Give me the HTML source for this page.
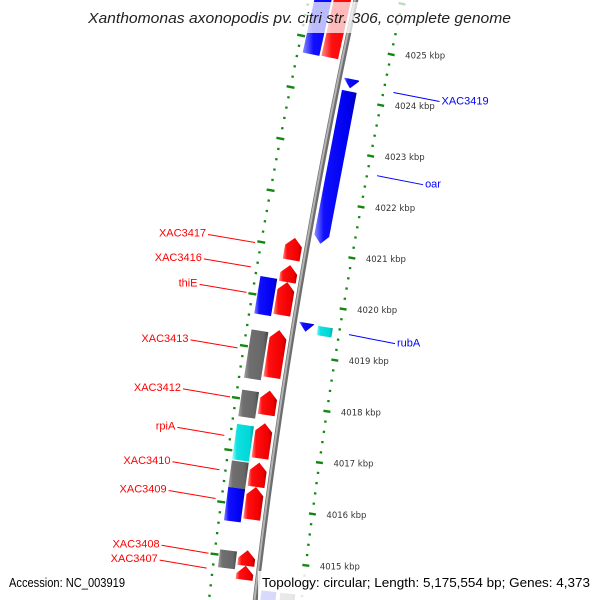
<!DOCTYPE html>
<html><head><meta charset="utf-8"><style>
html,body{margin:0;padding:0;background:#fff;overflow:hidden}
svg{display:block}
</style></head><body>
<svg id="map" width="600" height="600" viewBox="0 0 600 600" xmlns="http://www.w3.org/2000/svg">
<defs>
<linearGradient id="g-red" x1="0" y1="0" x2="1" y2="0"><stop offset="0" stop-color="#ff8a8a"/><stop offset="0.22" stop-color="#ff1010"/><stop offset="0.8" stop-color="#f00000"/><stop offset="1" stop-color="#b00000"/></linearGradient>
<linearGradient id="g-blue" x1="0" y1="0" x2="1" y2="0"><stop offset="0" stop-color="#8a8aff"/><stop offset="0.22" stop-color="#1010ff"/><stop offset="0.8" stop-color="#0000f0"/><stop offset="1" stop-color="#0000b0"/></linearGradient>
<linearGradient id="g-gray" x1="0" y1="0" x2="1" y2="0"><stop offset="0" stop-color="#a0a0a0"/><stop offset="0.22" stop-color="#707070"/><stop offset="0.8" stop-color="#666"/><stop offset="1" stop-color="#444"/></linearGradient>
<linearGradient id="g-cyan" x1="0" y1="0" x2="1" y2="0"><stop offset="0" stop-color="#a0ffff"/><stop offset="0.22" stop-color="#10e0e0"/><stop offset="0.8" stop-color="#00d8d8"/><stop offset="1" stop-color="#009c9c"/></linearGradient>
</defs>
<g id="ticks"></g>
<g id="backbone"></g>
<g id="features"></g>
<g id="labels"></g>
<rect x="84" y="2" width="432" height="31" fill="#fff" fill-opacity="0.72"/>
<text x="88" y="23" font-family="Liberation Sans, DejaVu Sans, sans-serif" font-style="italic" font-size="14.5" fill="#222" textLength="423" lengthAdjust="spacingAndGlyphs">Xanthomonas axonopodis pv. citri str. 306, complete genome</text>
<rect x="258" y="571" width="342" height="29" fill="#fff" fill-opacity="0.85"/>
<text x="9" y="587" font-family="Liberation Sans, sans-serif" font-size="13" fill="#000" textLength="116" lengthAdjust="spacingAndGlyphs">Accession: NC_003919</text>
<text x="262" y="587" font-family="Liberation Sans, sans-serif" font-size="13" fill="#000" textLength="328" lengthAdjust="spacingAndGlyphs">Topology: circular; Length: 5,175,554 bp; Genes: 4,373</text>
</svg>
<script>
// feature data (kbp)
const featName  = ['top-outer','top-inner','XAC3419','oar','XAC3417','XAC3416','thiE','thiE-outer','rubA','rubA-outer','XAC3413','XAC3413-outer','XAC3412','XAC3412-outer','rpiA','rpiA-outer','XAC3410','XAC3410-outer','XAC3409','XAC3409-outer','XAC3408','XAC3408-outer','XAC3407','bottom-inner','bottom-outer'];
const featStart = [4024.69,4024.70,4024.20,4021.16,4020.76,4020.33,4019.69,4019.64,4019.45,4019.42,4018.48,4018.40,4017.76,4017.66,4016.92,4016.83,4016.37,4016.30,4015.74,4015.66,4014.85,4014.76,4014.58,4012.50,4012.50];
const featEnd   = [4027.50,4027.50,4024.38,4024.14,4021.19,4020.66,4020.33,4020.36,4019.62,4019.60,4019.40,4019.33,4018.23,4018.17,4017.60,4017.51,4016.84,4016.81,4016.37,4016.30,4015.15,4015.10,4014.85,4014.42,4014.42];
const featTrack = ['fo','fi','ri','ri','fi','fi','fi','fo','ri','ro','fi','fo','fi','fo','fi','fo','fi','fo','fi','fo','fi','fo','fi','ri','ro'];
const featShape = ['box','fwd','rev','rev','fwd','fwd','fwd','box','rev','box','fwd','box','fwd','box','fwd','box','fwd','box','fwd','box','fwd','box','fwd','box','box'];
const featColor = ['blue','red','blue','blue','red','red','red','blue','blue','cyan','red','gray','red','gray','red','cyan','red','gray','red','blue','red','gray','red','blue','gray'];
// labels
const labelText = ['XAC3419','oar','rubA','XAC3417','XAC3416','thiE','XAC3413','XAC3412','rpiA','XAC3410','XAC3409','XAC3408','XAC3407'];
const labelKbp  = [4024.29,4022.65,4019.53,4020.97,4020.50,4020.01,4018.94,4018.00,4017.26,4016.60,4016.05,4015.00,4014.715];
const labelSide = ['r','r','r','l','l','l','l','l','l','l','l','l','l'];
// tick labels
const tickKbp = [4015,4016,4017,4018,4019,4020,4021,4022,4023,4024,4025];

const NS='http://www.w3.org/2000/svg';
const CX=6413, CY=1323, R=6200, A0=189.484, DEG=0.4824;
function pt(k,o){const a=(A0+(k-4020)*DEG)*Math.PI/180, r=R-o;return [CX+r*Math.cos(a), CY+r*Math.sin(a)];}
function P(a){return a.map(p=>p[0].toFixed(2)+','+p[1].toFixed(2)).join(' ');}
const tracks={fo:[-41,-24],fi:[-22,-5],ri:[5,20],ro:[24,39]};

// ticks
const tg=document.getElementById('ticks');
for(const ring of [46,-46]){
  for(let i=0;i<=85;i++){
    const k=4012+i*0.2, major=(i%5===0);
    const L=major?(ring>0?3.5:4):1.2;
    const a=pt(k,ring-L), b=pt(k,ring+L);
    const ln=document.createElementNS(NS,'line');
    
    
    ln.setAttribute('x1',a[0]);ln.setAttribute('y1',a[1]);ln.setAttribute('x2',b[0]);ln.setAttribute('y2',b[1]);
    ln.setAttribute('stroke','#118811');ln.setAttribute('stroke-width',major?2.4:2.2);
    tg.appendChild(ln);
  }
}
tickKbp.forEach(k=>{
  const p=pt(k,46);
  const t=document.createElementNS(NS,'text');
  
  
  t.setAttribute('x',p[0]+14);t.setAttribute('y',p[1]+4);
  t.setAttribute('font-family','DejaVu Sans, sans-serif');t.setAttribute('font-size','8.5');t.setAttribute('fill','#333');
  t.textContent=k+' kbp';tg.appendChild(t);
});

// backbone
const bg=document.getElementById('backbone');
function arc(o){const a=[];for(let k=4011;k<=4028;k+=0.25)a.push(pt(k,o));return P(a);}
[[0,5,'#6e6e6e'],[-0.8,2,'#b4b4b4']].forEach(s=>{
  const pl=document.createElementNS(NS,'polyline');
  
  
  pl.setAttribute('points',arc(s[0]));pl.setAttribute('fill','none');pl.setAttribute('stroke',s[2]);pl.setAttribute('stroke-width',s[1]);
  bg.appendChild(pl);
});

// features
const fg=document.getElementById('features');
const H=0.16;
featStart.forEach((k1,i)=>{
  const k2=featEnd[i], tr=tracks[featTrack[i]], o1=tr[0], o2=tr[1], m=(o1+o2)/2;
  const h=Math.min(H,k2-k1);
  let pts;
  if(featShape[i]==='fwd') pts=[pt(k1,o1),pt(k2-h,o1),pt(k2,m),pt(k2-h,o2),pt(k1,o2)];
  else if(featShape[i]==='rev') pts=[pt(k2,o1),pt(k1+h,o1),pt(k1,m),pt(k1+h,o2),pt(k2,o2)];
  else pts=[pt(k1,o1),pt(k2,o1),pt(k2,o2),pt(k1,o2)];
  const pg=document.createElementNS(NS,'polygon');
  
  
  pg.setAttribute('points',P(pts));pg.setAttribute('fill','url(#g-'+featColor[i]+')');
  fg.appendChild(pg);
});

// labels
const lg=document.getElementById('labels');
labelText.forEach((s,i)=>{
  const right=labelSide[i]==='r';
  const e=pt(labelKbp[i], right?56:-52);
  const st=right?[e[0]+46,e[1]+9]:[e[0]-47,e[1]-8];
  const ln=document.createElementNS(NS,'line');
  
  
  ln.setAttribute('x1',st[0]);ln.setAttribute('y1',st[1]);ln.setAttribute('x2',e[0]);ln.setAttribute('y2',e[1]);
  ln.setAttribute('stroke',right?'#0000ff':'#ff0000');ln.setAttribute('stroke-width','1');
  lg.appendChild(ln);
  const t=document.createElementNS(NS,'text');
  
  
  t.setAttribute('x',right?st[0]+2:st[0]-2);t.setAttribute('y',st[1]+(right?3:2));
  t.setAttribute('text-anchor',right?'start':'end');
  t.setAttribute('font-family','Liberation Sans, sans-serif');t.setAttribute('font-size','11');
  t.setAttribute('fill',right?'#0000ff':'#ff0000');
  t.textContent=s;lg.appendChild(t);
});
</script>
</body></html>
